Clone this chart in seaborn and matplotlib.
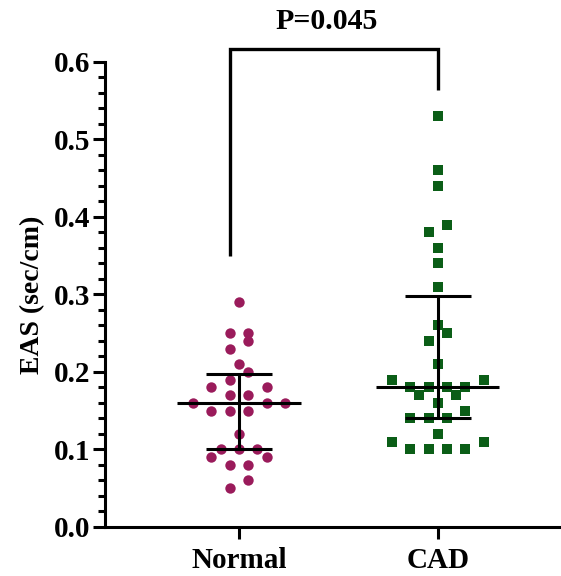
import numpy as np
import pandas as pd
import matplotlib
matplotlib.use("Agg")
import matplotlib.pyplot as plt
from matplotlib.ticker import AutoMinorLocator
import seaborn as sns

# ---- data ----
categories = ["Normal", "CAD"]
normal_values = [0.29, 0.25, 0.25, 0.24, 0.23, 0.21, 0.20, 0.19, 0.18, 0.18,
                 0.17, 0.17, 0.16, 0.16, 0.16, 0.15, 0.15, 0.15, 0.12, 0.10,
                 0.10, 0.10, 0.09, 0.09, 0.08, 0.08, 0.06, 0.05]
cad_values = [0.53, 0.46, 0.44, 0.39, 0.38, 0.36, 0.34, 0.31, 0.26, 0.25,
              0.24, 0.21, 0.19, 0.19, 0.18, 0.18, 0.18, 0.18, 0.17, 0.17,
              0.16, 0.15, 0.14, 0.14, 0.14, 0.12, 0.11, 0.11, 0.10, 0.10,
              0.10, 0.10]
p_label = "P=0.045"
y_label = "EAS (sec/cm)"
y_ticks = [0.0, 0.1, 0.2, 0.3, 0.4, 0.5, 0.6]

colors = {"Normal": "#9a1b5b", "CAD": "#0b5e17"}
markers = {"Normal": "o", "CAD": "s"}
marker_area = {"Normal": 56, "CAD": 46}

ROW_SPAN = 0.015    # values closer than this share a row
STEP = 0.093        # horizontal spacing between points in a row (category units)


def scatter_layout(values, center):
    """GraphPad-like layout: group close values into rows, centre each row."""
    vals = sorted(values)
    xs, ys = [], []
    i = 0
    while i < len(vals):
        j = i
        while j < len(vals) and vals[j] - vals[i] < ROW_SPAN:
            j += 1
        row = vals[i:j]
        n = len(row)
        slots = [(k - (n - 1) / 2) for k in range(n)]
        slots.sort(key=lambda s: (abs(s), s))
        for v, s in zip(row, slots):
            xs.append(center + s * STEP)
            ys.append(v)
        i = j
    return xs, ys


group_values = {"Normal": normal_values, "CAD": cad_values}
frames = []
for i, g in enumerate(categories):
    xs, ys = scatter_layout(group_values[g], i)
    frames.append(pd.DataFrame({"group": g, "x": xs, "value": ys}))
df = pd.concat(frames, ignore_index=True)

sns.set_theme(style="ticks", rc={
    "text.color": "black", "axes.labelcolor": "black",
    "xtick.color": "black", "ytick.color": "black",
    "axes.edgecolor": "black",
})
plt.rcParams["font.family"] = ["Liberation Serif", "DejaVu Serif"]
plt.rcParams["font.weight"] = "bold"

fig = plt.figure(figsize=(5.61, 5.76), dpi=100)
ax = fig.add_axes([0.1872, 0.0851, 0.8110, 0.8073])

for g in categories:
    sub = df[df["group"] == g]
    sns.scatterplot(data=sub, x="x", y="value", color=colors[g],
                    marker=markers[g], s=marker_area[g], linewidth=0,
                    ax=ax, zorder=2, legend=False)

# median with interquartile range (GraphPad-style quantiles)
for i, g in enumerate(categories):
    vals = np.array(group_values[g])
    med = np.median(vals)
    q1, q3 = np.percentile(vals, [25, 75], method="weibull")
    ax.plot([i - 0.31, i + 0.31], [med, med], color="black", lw=2.2, zorder=3,
            solid_capstyle="butt")
    ax.plot([i, i], [q1, q3], color="black", lw=2.2, zorder=3)
    for q in (q1, q3):
        ax.plot([i - 0.165, i + 0.165], [q, q], color="black", lw=2.2,
                zorder=3, solid_capstyle="butt")

# significance bracket
bx0, bx1 = -0.045, 1.0
by_top, by_left, by_right = 0.617, 0.35, 0.564
ax.plot([bx0, bx0, bx1, bx1], [by_left, by_top, by_top, by_right],
        color="black", lw=2.4, clip_on=False, solid_joinstyle="miter",
        solid_capstyle="butt")
ax.text(0.443, 0.652, p_label, ha="center", va="center", fontsize=21.5,
        fontweight="bold", clip_on=False)

ax.set_xlim(-0.674, 1.615)
ax.set_ylim(0, 0.6)
ax.set_xticks(range(len(categories)))
ax.set_xticklabels(categories)
ax.set_yticks(y_ticks)
ax.set_yticklabels([f"{t:.1f}" for t in y_ticks])
ax.yaxis.set_minor_locator(AutoMinorLocator(5))
ax.set_xlabel("")
ax.set_ylabel(y_label, fontsize=20, fontweight="bold", labelpad=6)

for side in ("top", "right"):
    ax.spines[side].set_visible(False)
for side in ("left", "bottom"):
    ax.spines[side].set_linewidth(2.2)

ax.tick_params(axis="y", which="major", length=8.5, width=2.2, labelsize=21,
               pad=2)
ax.tick_params(axis="y", which="minor", length=5, width=2.2)
ax.tick_params(axis="x", which="major", length=8.5, width=2.2, labelsize=21,
               pad=6)
for lab in ax.get_xticklabels() + ax.get_yticklabels():
    lab.set_fontweight("bold")

fig.savefig("out.png", dpi=100)
